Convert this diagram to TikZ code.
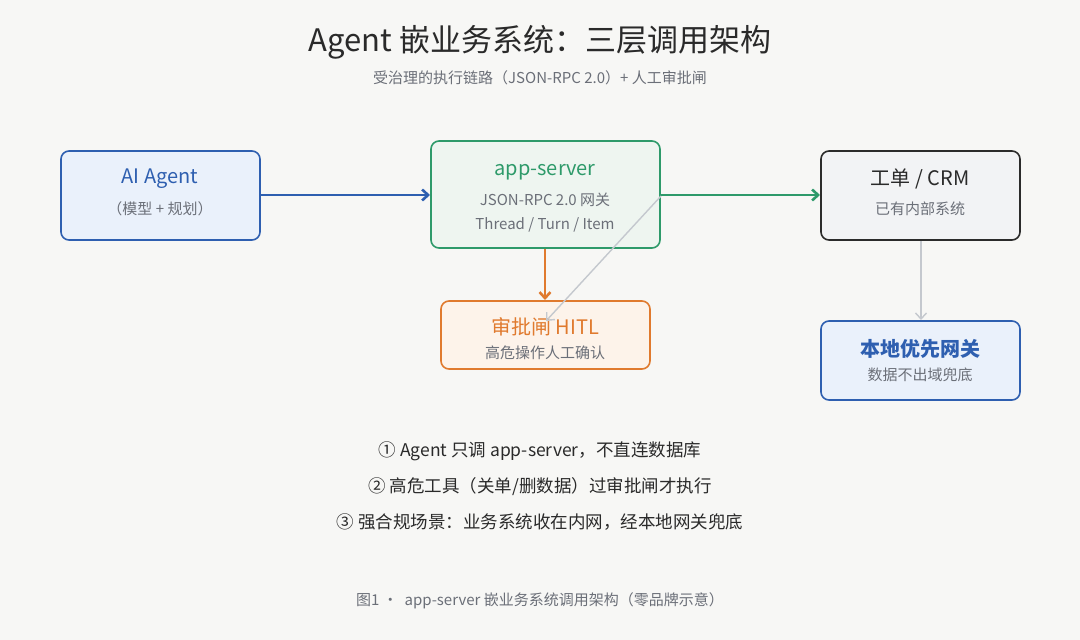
\documentclass[tikz,border=0pt]{standalone}
\usepackage{fontspec}
\setmainfont{Noto Sans CJK SC}
\usetikzlibrary{arrows.meta}
\definecolor{bg}{HTML}{F7F7F5}
\definecolor{blueS}{HTML}{2E5FB0}\definecolor{blueF}{HTML}{EAF1FB}
\definecolor{greenS}{HTML}{2E9A6A}\definecolor{greenF}{HTML}{EEF5F0}
\definecolor{darkS}{HTML}{2B2B2B}\definecolor{darkF}{HTML}{F2F3F5}
\definecolor{orS}{HTML}{E07A2E}\definecolor{orF}{HTML}{FDF3EA}
\definecolor{txt}{HTML}{6B6F78}\definecolor{greyL}{HTML}{C4C8CE}
\definecolor{ttl}{HTML}{2A2A2A}
\begin{document}
\begin{tikzpicture}[x=1pt,y=-1pt,
 box/.style={draw,line width=1.6pt,rounded corners=8pt},
 arr/.style={line width=2.6pt,-{Straight Barb[length=6pt,width=11pt]}},
 sub/.style={text=txt,font=\fontsize{15}{17}\selectfont},
 note/.style={text=ttl,font=\fontsize{17.5}{19}\selectfont}]
\fill[bg] (0,0) rectangle (1080,640);
\node[text=ttl,font=\fontsize{31}{35}\selectfont] (title) at (540,42) {Agent 嵌业务系统：三层调用架构};
\node[sub] (subt) at (540,78) {受治理的执行链路（JSON-RPC 2.0）+ 人工审批闸};

\draw[box,draw=blueS,fill=blueF] (61,151) rectangle (260,240);
\node[text=blueS,font=\fontsize{20}{22}\selectfont] (at) at (160,179) {AI Agent};
\node[sub] (as) at (160,209) {（模型 + 规划）};

\draw[box,draw=greenS,fill=greenF] (431,141) rectangle (660,248);
\node[text=greenS,font=\fontsize{20}{22}\selectfont] (st) at (545,172) {app-server};
\node[sub] (s1) at (545,200) {JSON-RPC 2.0 网关};
\node[sub] (s2) at (545,225) {Thread / Turn / Item};

\draw[box,draw=darkS,fill=darkF] (821,151) rectangle (1020,240);
\node[text=ttl,font=\fontsize{20}{22}\selectfont] (ct) at (920,179) {工单 / CRM};
\node[sub] (cs) at (920,209) {已有内部系统};

\draw[box,draw=orS,fill=orF] (441,301) rectangle (650,369);
\node[text=orS,font=\fontsize{20}{22}\selectfont] (ht) at (545,327) {审批闸 HITL};
\node[sub] (hs) at (545,353) {高危操作人工确认};

\draw[box,draw=blueS,fill=blueF] (821,321) rectangle (1020,400);
\node[text=blueS,font=\fontsize{20}{22}\bfseries\selectfont] (gt) at (920,349) {本地优先网关};
\node[sub] (gs) at (920,375) {数据不出域兜底};

\coordinate (aR) at (261,195); \coordinate (sL) at (430,195);
\coordinate (sR) at (661,195); \coordinate (cL) at (820,195);
\coordinate (sB) at (545,249); \coordinate (hT) at (545,300);
\coordinate (cB) at (921,241); \coordinate (gT) at (921,320);
\coordinate (sX) at (661,196); \coordinate (hX) at (546,321);
\draw[arr,draw=blueS] (aR) -- (sL);
\draw[arr,draw=greenS] (sR) -- (cL);
\draw[arr,draw=orS] (sB) -- (hT);
\draw[line width=1.4pt,draw=greyL,-{Straight Barb[length=6pt,width=11pt]}] (cB) -- (gT);
\draw[line width=1.4pt,draw=greyL,-{Straight Barb[length=6pt,width=11pt]}] (sX) -- (hX);

\node[note] (n1) at (540,451) {① Agent 只调 app-server，不直连数据库};
\node[note] (n2) at (540,487) {② 高危工具（关单/删数据）过审批闸才执行};
\node[note] (n3) at (540,522) {③ 强合规场景：业务系统收在内网，经本地网关兜底};
\node[text=txt,font=\fontsize{15}{17}\selectfont] (cap) at (540,601) {图1 ·\ \ app-server 嵌业务系统调用架构（零品牌示意）};
\end{tikzpicture}
\end{document}
